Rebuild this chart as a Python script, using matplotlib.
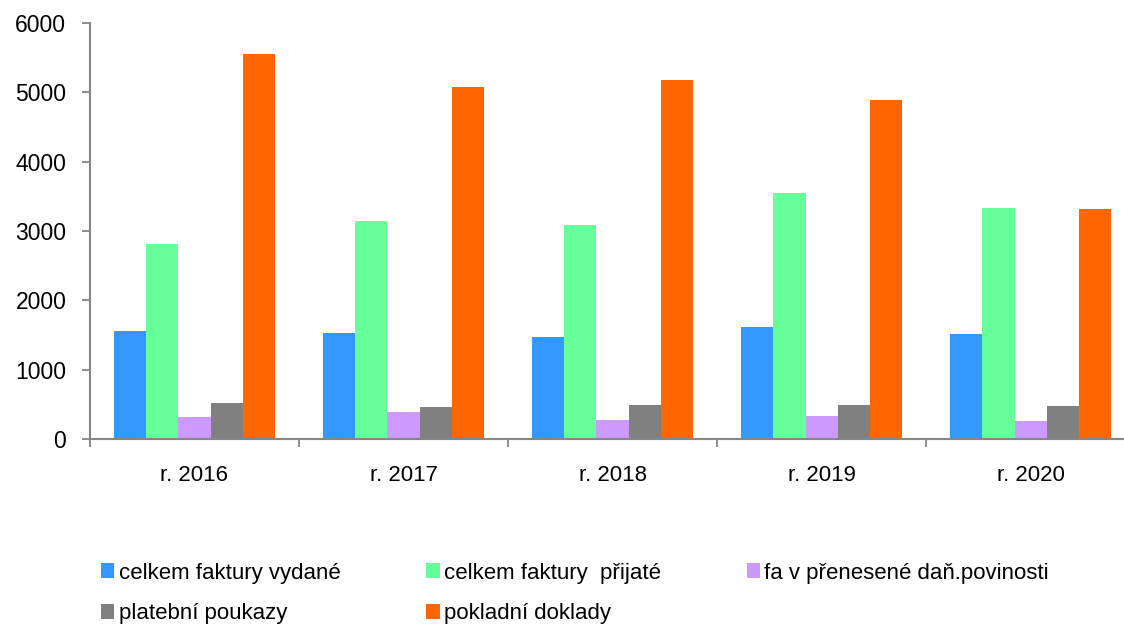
#!/usr/bin/env python3
"""
Počty dokladů podle roků - sloupcový graf
"""
import numpy as np
import matplotlib
matplotlib.use('Agg')
import matplotlib.pyplot as plt
from matplotlib.patches import Patch

# data
years = ['r. 2016', 'r. 2017', 'r. 2018', 'r. 2019', 'r. 2020']
series_names = ['celkem faktury vydané', 'celkem faktury  přijaté',
                'fa v přenesené daň.povinosti', 'platební poukazy',
                'pokladní doklady']
faktury_vydane = [1556, 1531, 1469, 1609, 1508]
faktury_prijate = [2810, 3144, 3091, 3549, 3332]
prenesena_povinnost = [318, 390, 280, 328, 256]
platebni_poukazy = [520, 468, 491, 487, 477]
pokladni_doklady = [5557, 5076, 5181, 4892, 3318]
colors = ['#3399FF', '#66FF99', '#CC99FF', '#808080', '#FF6600']
y_ticks = [0, 1000, 2000, 3000, 4000, 5000, 6000]

plt.rcParams['font.family'] = ['Liberation Sans', 'DejaVu Sans']
axis_color = '#868686'

fig = plt.figure(figsize=(11.24, 6.25), dpi=100)
ax = fig.add_axes([0.080, 0.2976, 0.930, 0.6656])

values = [faktury_vydane, faktury_prijate, prenesena_povinnost,
          platebni_poukazy, pokladni_doklady]
x = np.arange(len(years))
width = 0.154
for i, (vals, col) in enumerate(zip(values, colors)):
    offset = (i - 2) * width
    ax.bar(x + offset, vals, width, color=col, edgecolor='none', zorder=2)

ax.set_xlim(-0.5, len(years) - 0.5)
ax.set_ylim(0, 6000)
ax.set_yticks(y_ticks)
ax.set_yticklabels([str(t) for t in y_ticks])

# kategorie - hlavní ticky na hranicích, popisky uprostřed
ax.set_xticks(np.arange(len(years) + 1) - 0.5)
ax.set_xticklabels([])
ax.set_xticks(x, minor=True)
ax.set_xticklabels(years, minor=True)
ax.tick_params(axis='x', which='major', length=6, width=1.3, color=axis_color,
               direction='out')
ax.tick_params(axis='x', which='minor', length=0, pad=19, labelsize=16)
ax.tick_params(axis='y', length=6, width=1.3, color=axis_color,
               direction='out', pad=11, labelsize=16.5)

for side in ['top', 'right']:
    ax.spines[side].set_visible(False)
for side in ['left', 'bottom']:
    ax.spines[side].set_color(axis_color)
    ax.spines[side].set_linewidth(1.5)

# legenda - po řádcích (matplotlib plní sloupce, proto přeskládat)
handles = [Patch(facecolor=c, edgecolor='none') for c in colors]
order = [0, 3, 1, 4, 2]
fig.legend([handles[i] for i in order], [series_names[i] for i in order],
           ncol=3, loc='upper left',
           bbox_to_anchor=(0.090, 0.100), bbox_transform=fig.transFigure,
           frameon=False, fontsize=16, handlelength=0.6, handleheight=0.65,
           handletextpad=0.2, columnspacing=3.85, labelspacing=0.9,
           borderaxespad=0, borderpad=0)

fig.savefig('out.png', dpi=100)
plt.close(fig)
